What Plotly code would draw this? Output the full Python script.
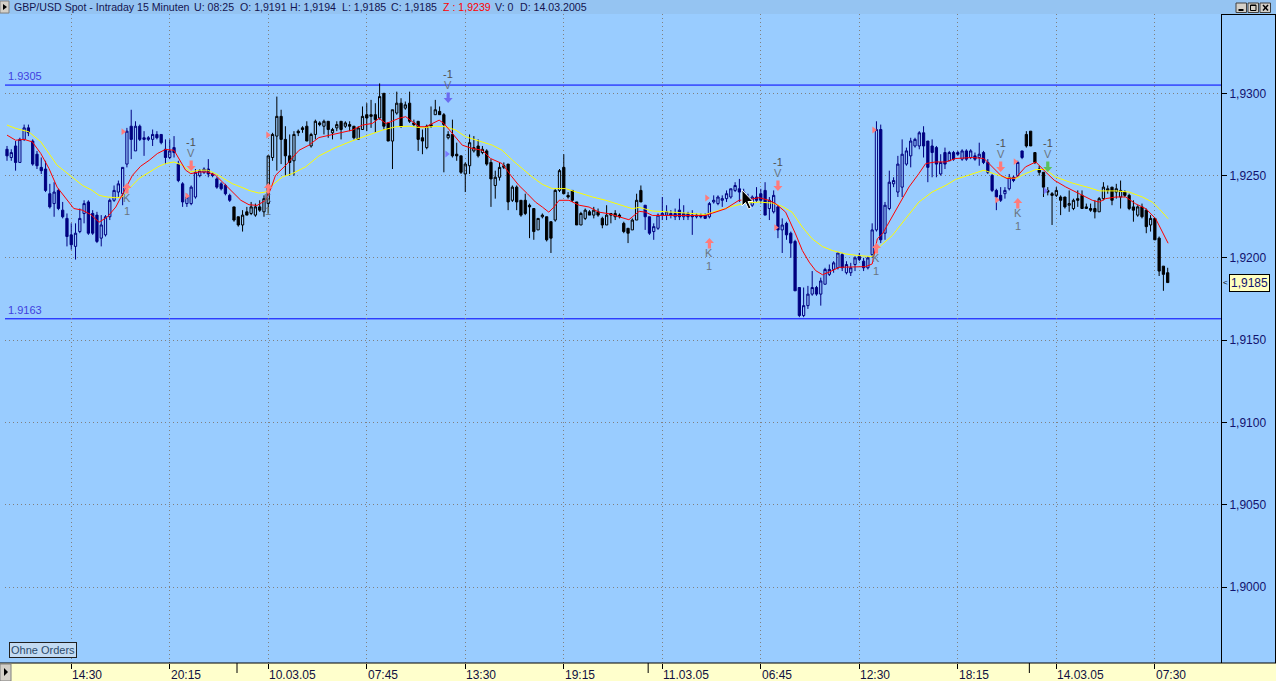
import plotly.graph_objects as go

# ---------------- data (GBP/USD 15-minute bars) ----------------
bar_index = list(range(272))

opens = [
 1.9266,1.9261,1.9268,1.9258,1.9272,1.9279,1.9271,1.9263,1.9255,1.9254,
 1.9239,1.9233,1.9241,1.9229,1.9224,1.9214,1.9207,1.9216,1.9227,1.9234,
 1.9227,1.9226,1.9212,1.9214,1.9225,1.9235,1.9240,1.9239,1.9257,1.9280,
 1.9265,1.9280,1.9273,1.9272,1.9272,1.9275,1.9275,1.9266,1.9261,1.9267,
 1.9257,1.9245,1.9233,1.9233,1.9237,1.9250,1.9252,1.9254,1.9251,1.9248,
 1.9245,1.9244,1.9238,1.9231,1.9225,1.9220,1.9228,1.9227,1.9226,1.9231,
 1.9228,1.9233,1.9261,1.9274,1.9286,1.9272,1.9262,1.9259,1.9277,1.9279,
 1.9280,1.9268,1.9275,1.9282,1.9280,1.9283,1.9276,1.9279,1.9283,1.9280,
 1.9281,1.9280,1.9272,1.9278,1.9287,1.9287,1.9287,1.9285,1.9300,1.9282,
 1.9271,1.9288,1.9294,1.9291,1.9294,1.9282,1.9283,1.9273,1.9267,1.9281,
 1.9287,1.9289,1.9287,1.9273,1.9275,1.9263,1.9262,1.9251,1.9256,1.9265,
 1.9268,1.9264,1.9265,1.9258,1.9244,1.9249,1.9255,1.9257,1.9235,1.9243,
 1.9235,1.9235,1.9232,1.9230,1.9217,1.9225,1.9225,1.9222,1.9223,1.9241,
 1.9255,1.9238,1.9241,1.9234,1.9220,1.9224,1.9228,1.9226,1.9228,1.9224,
 1.9220,1.9227,1.9225,1.9226,1.9221,1.9218,1.9217,1.9223,1.9241,1.9232,
 1.9225,1.9216,1.9218,1.9226,1.9226,1.9227,1.9225,1.9229,1.9225,1.9227,
 1.9226,1.9225,1.9226,1.9226,1.9225,1.9234,1.9233,1.9235,1.9236,1.9237,
 1.9241,1.9242,1.9240,1.9237,1.9232,1.9237,1.9239,1.9241,1.9230,1.9228,
 1.9231,1.9217,1.9221,1.9215,1.9210,1.9182,1.9165,1.9171,1.9178,1.9182,
 1.9178,1.9184,1.9190,1.9193,1.9194,1.9202,1.9191,1.9191,1.9196,1.9201,
 1.9198,1.9194,1.9202,1.9217,1.9278,1.9215,1.9230,1.9245,1.9240,1.9243,
 1.9257,1.9262,1.9268,1.9268,1.9276,1.9271,1.9268,1.9267,1.9251,1.9264,
 1.9259,1.9264,1.9264,1.9260,1.9265,1.9261,1.9262,1.9261,1.9264,1.9258,
 1.9250,1.9241,1.9238,1.9239,1.9242,1.9249,1.9250,1.9265,1.9275,1.9277,
 1.9264,1.9254,1.9252,1.9241,1.9239,1.9238,1.9237,1.9237,1.9232,1.9230,
 1.9236,1.9238,1.9230,1.9230,1.9230,1.9228,1.9236,1.9241,1.9243,1.9240,
 1.9237,1.9240,1.9238,1.9231,1.9226,1.9231,1.9229,1.9220,1.9224,1.9212,
 1.9195,1.9191]

highs = [
 1.9268,1.9266,1.9271,1.9273,1.9281,1.9281,1.9272,1.9265,1.9261,1.9259,
 1.9245,1.9246,1.9242,1.9234,1.9227,1.9221,1.9221,1.9230,1.9235,1.9235,
 1.9229,1.9228,1.9226,1.9226,1.9236,1.9244,1.9247,1.9255,1.9279,1.9290,
 1.9283,1.9281,1.9277,1.9274,1.9278,1.9277,1.9275,1.9272,1.9272,1.9274,
 1.9259,1.9246,1.9239,1.9244,1.9254,1.9254,1.9255,1.9260,1.9252,1.9249,
 1.9246,1.9245,1.9239,1.9231,1.9225,1.9229,1.9231,1.9234,1.9233,1.9235,
 1.9238,1.9262,1.9276,1.9298,1.9290,1.9280,1.9275,1.9277,1.9278,1.9280,
 1.9283,1.9276,1.9284,1.9283,1.9284,1.9283,1.9279,1.9283,1.9283,1.9283,
 1.9283,1.9280,1.9280,1.9292,1.9294,1.9296,1.9294,1.9306,1.9300,1.9282,
 1.9290,1.9301,1.9297,1.9295,1.9301,1.9284,1.9283,1.9278,1.9281,1.9292,
 1.9296,1.9292,1.9288,1.9277,1.9284,1.9270,1.9262,1.9258,1.9275,1.9274,
 1.9272,1.9268,1.9266,1.9260,1.9253,1.9258,1.9258,1.9257,1.9244,1.9244,
 1.9235,1.9239,1.9233,1.9230,1.9224,1.9227,1.9225,1.9222,1.9242,1.9254,
 1.9263,1.9240,1.9241,1.9234,1.9228,1.9230,1.9229,1.9231,1.9230,1.9225,
 1.9232,1.9227,1.9229,1.9227,1.9222,1.9218,1.9224,1.9239,1.9244,1.9232,
 1.9225,1.9221,1.9227,1.9237,1.9232,1.9229,1.9230,1.9236,1.9232,1.9228,
 1.9229,1.9227,1.9227,1.9227,1.9234,1.9238,1.9238,1.9238,1.9241,1.9242,
 1.9246,1.9248,1.9242,1.9239,1.9238,1.9243,1.9242,1.9246,1.9237,1.9241,
 1.9232,1.9224,1.9222,1.9216,1.9211,1.9182,1.9182,1.9183,1.9192,1.9183,
 1.9188,1.9194,1.9196,1.9198,1.9203,1.9203,1.9198,1.9197,1.9201,1.9203,
 1.9200,1.9201,1.9221,1.9283,1.9281,1.9234,1.9253,1.9249,1.9262,1.9272,
 1.9267,1.9273,1.9273,1.9277,1.9280,1.9271,1.9272,1.9268,1.9263,1.9267,
 1.9265,1.9265,1.9265,1.9266,1.9266,1.9266,1.9264,1.9270,1.9265,1.9260,
 1.9251,1.9242,1.9243,1.9243,1.9251,1.9250,1.9259,1.9265,1.9277,1.9277,
 1.9264,1.9256,1.9252,1.9243,1.9240,1.9243,1.9238,1.9237,1.9241,1.9236,
 1.9241,1.9241,1.9233,1.9233,1.9235,1.9237,1.9246,1.9244,1.9243,1.9245,
 1.9247,1.9241,1.9239,1.9235,1.9232,1.9233,1.9230,1.9226,1.9224,1.9213,
 1.9195,1.9194]

lows = [
 1.9259,1.9259,1.9253,1.9258,1.9271,1.9274,1.9256,1.9254,1.9251,1.9240,
 1.9230,1.9225,1.9229,1.9224,1.9207,1.9205,1.9199,1.9215,1.9221,1.9214,
 1.9214,1.9209,1.9207,1.9213,1.9223,1.9234,1.9237,1.9232,1.9255,1.9260,
 1.9265,1.9271,1.9262,1.9271,1.9268,1.9272,1.9269,1.9257,1.9260,1.9261,
 1.9246,1.9231,1.9231,1.9232,1.9236,1.9249,1.9251,1.9249,1.9249,1.9242,
 1.9241,1.9238,1.9234,1.9222,1.9219,1.9216,1.9226,1.9226,1.9225,1.9228,
 1.9225,1.9227,1.9259,1.9253,1.9257,1.9250,1.9250,1.9250,1.9274,1.9276,
 1.9271,1.9267,1.9272,1.9280,1.9275,1.9273,1.9272,1.9277,1.9272,1.9279,
 1.9277,1.9272,1.9272,1.9278,1.9277,1.9279,1.9276,1.9284,1.9278,1.9271,
 1.9254,1.9287,1.9279,1.9290,1.9282,1.9280,1.9265,1.9263,1.9266,1.9279,
 1.9287,1.9287,1.9252,1.9272,1.9261,1.9259,1.9251,1.9240,1.9251,1.9264,
 1.9261,1.9263,1.9256,1.9231,1.9236,1.9247,1.9254,1.9229,1.9234,1.9229,
 1.9225,1.9226,1.9212,1.9211,1.9217,1.9224,1.9210,1.9203,1.9222,1.9240,
 1.9239,1.9236,1.9234,1.9220,1.9220,1.9223,1.9226,1.9224,1.9225,1.9218,
 1.9220,1.9221,1.9223,1.9224,1.9215,1.9209,1.9217,1.9223,1.9234,1.9217,
 1.9214,1.9211,1.9217,1.9223,1.9223,1.9224,1.9223,1.9223,1.9223,1.9223,
 1.9214,1.9224,1.9224,1.9224,1.9224,1.9233,1.9232,1.9231,1.9234,1.9236,
 1.9240,1.9234,1.9234,1.9232,1.9231,1.9234,1.9233,1.9226,1.9223,1.9227,
 1.9212,1.9203,1.9211,1.9200,1.9180,1.9164,1.9164,1.9169,1.9177,1.9177,
 1.9171,1.9184,1.9189,1.9191,1.9193,1.9192,1.9190,1.9189,1.9192,1.9198,
 1.9192,1.9193,1.9200,1.9216,1.9209,1.9211,1.9229,1.9243,1.9237,1.9237,
 1.9256,1.9255,1.9267,1.9266,1.9261,1.9246,1.9249,1.9249,1.9250,1.9254,
 1.9259,1.9259,1.9262,1.9259,1.9259,1.9260,1.9259,1.9256,1.9257,1.9251,
 1.9240,1.9229,1.9234,1.9236,1.9241,1.9246,1.9249,1.9260,1.9267,1.9268,
 1.9257,1.9250,1.9237,1.9238,1.9220,1.9237,1.9226,1.9230,1.9228,1.9229,
 1.9231,1.9230,1.9230,1.9228,1.9224,1.9228,1.9235,1.9239,1.9232,1.9236,
 1.9230,1.9237,1.9229,1.9222,1.9225,1.9224,1.9215,1.9216,1.9211,1.9189,
 1.9180,1.9185]

closes = [
 1.9262,1.9264,1.9258,1.9272,1.9279,1.9276,1.9257,1.9256,1.9253,1.9241,
 1.9231,1.9240,1.9230,1.9225,1.9213,1.9208,1.9215,1.9224,1.9233,1.9215,
 1.9215,1.9210,1.9220,1.9225,1.9235,1.9241,1.9245,1.9255,1.9277,1.9272,
 1.9280,1.9272,1.9272,1.9273,1.9275,1.9273,1.9270,1.9261,1.9265,1.9264,
 1.9247,1.9234,1.9237,1.9243,1.9252,1.9253,1.9254,1.9251,1.9250,1.9243,
 1.9242,1.9239,1.9235,1.9223,1.9220,1.9226,1.9226,1.9231,1.9231,1.9229,
 1.9236,1.9262,1.9275,1.9286,1.9272,1.9262,1.9258,1.9275,1.9276,1.9278,
 1.9271,1.9275,1.9283,1.9281,1.9283,1.9278,1.9278,1.9281,1.9278,1.9282,
 1.9280,1.9273,1.9279,1.9286,1.9285,1.9286,1.9284,1.9298,1.9280,1.9271,
 1.9290,1.9294,1.9280,1.9293,1.9283,1.9281,1.9272,1.9271,1.9280,1.9280,
 1.9290,1.9287,1.9281,1.9275,1.9262,1.9262,1.9252,1.9257,1.9270,1.9267,
 1.9262,1.9266,1.9257,1.9248,1.9249,1.9255,1.9256,1.9234,1.9243,1.9234,
 1.9226,1.9227,1.9231,1.9216,1.9224,1.9226,1.9211,1.9212,1.9241,1.9253,
 1.9239,1.9237,1.9235,1.9220,1.9227,1.9229,1.9226,1.9229,1.9226,1.9220,
 1.9226,1.9226,1.9227,1.9225,1.9216,1.9215,1.9223,1.9235,1.9234,1.9225,
 1.9215,1.9219,1.9226,1.9227,1.9228,1.9226,1.9227,1.9225,1.9227,1.9225,
 1.9225,1.9226,1.9225,1.9224,1.9233,1.9235,1.9237,1.9236,1.9239,1.9242,
 1.9244,1.9240,1.9236,1.9234,1.9237,1.9235,1.9235,1.9226,1.9235,1.9238,
 1.9217,1.9220,1.9214,1.9209,1.9180,1.9165,1.9171,1.9178,1.9182,1.9178,
 1.9186,1.9193,1.9193,1.9197,1.9203,1.9194,1.9196,1.9194,1.9200,1.9199,
 1.9194,1.9200,1.9217,1.9278,1.9211,1.9232,1.9246,1.9247,1.9257,1.9263,
 1.9265,1.9271,1.9272,1.9276,1.9268,1.9255,1.9264,1.9257,1.9258,1.9257,
 1.9264,1.9260,1.9263,1.9265,1.9260,1.9265,1.9260,1.9263,1.9258,1.9252,
 1.9241,1.9237,1.9235,1.9241,1.9249,1.9247,1.9258,1.9261,1.9268,1.9268,
 1.9258,1.9252,1.9243,1.9240,1.9238,1.9241,1.9235,1.9231,1.9233,1.9235,
 1.9235,1.9230,1.9231,1.9229,1.9228,1.9236,1.9243,1.9242,1.9235,1.9242,
 1.9241,1.9238,1.9230,1.9229,1.9231,1.9225,1.9219,1.9224,1.9211,1.9192,
 1.9190,1.9185]

day_first_bar = [53, 149, 238]          # first bars of 10.03, 11.03, 14.03

tick_bars = [15, 38, 61, 84, 107, 130, 153, 176, 199, 222, 245, 268]
tick_labels = ["14:30", "20:15", "10.03.05", "07:45", "13:30", "19:15",
               "11.03.05", "06:45", "12:30", "18:15", "14.03.05", "07:30"]

price_ticks = [1.9000, 1.9050, 1.9100, 1.9150, 1.9200, 1.9250, 1.9300]
price_tick_labels = ["1,9000", "1,9050", "1,9100", "1,9150", "1,9200", "1,9250", "1,9300"]

# fast (red) moving average
ma_fast_x = [0, 2, 4, 5.9, 7.9, 9.8, 11.7, 13.7, 15.6, 17.6, 19.5, 21.5, 23.4, 25.4, 27.3, 29.3,
             31.2, 33.2, 35.1, 37, 39, 40.2, 41.7, 42.9, 44.8, 46.8, 48.7, 50.7, 52.6, 54.6, 56.5,
             58.4, 60.4, 61.6, 62.7, 65.1, 68.2, 70.5, 72.8,
             76.7, 80.6, 83, 85.3, 86.9, 88.4, 89.6, 91.5, 93.1, 94.6, 96.2, 97.8, 99.3, 100.9, 102,
             104, 106.3, 108.6, 111, 112.9, 114.5, 115.6, 117.6, 119.5, 121.5, 123.4, 125, 126.5,
             127.7, 128.9, 131.2, 133.6, 135.9, 138.2, 140.6, 142.9, 145.2, 147.6,
             149.1, 150.7, 153.8, 156.9, 160, 163.1, 164.7, 167.8, 170.9, 173.2, 175.6, 177.9, 179.5,
             181.8, 184.1, 185.7, 187.3, 188.8, 190.4, 191.9, 194.3, 197.4, 200.5, 202, 203.2, 204.4,
             205.9, 208.3, 210.6, 212.9, 214.5, 216.8, 219.2, 221.5,
             225.4, 228.1, 230, 232, 233.5, 235.5, 237.8, 240.2, 242.5, 244.5, 247.2, 250.3, 253.4,
             255, 256.5, 258.9, 261.2, 263.5, 265.9, 268.2, 269.7, 271.1]
ma_fast_y = [1.92746, 1.92715, 1.92720, 1.92705, 1.92634, 1.92543, 1.92430, 1.92360, 1.92300, 1.92290,
             1.92264, 1.92217, 1.92248, 1.92309, 1.92400, 1.92502, 1.92557, 1.92593, 1.92634, 1.92659,
             1.92654, 1.92604, 1.92533, 1.92512, 1.92522, 1.92522, 1.92502, 1.92451, 1.92400, 1.92350,
             1.92323, 1.92319, 1.92350, 1.92420, 1.92502, 1.92563, 1.92654, 1.92685, 1.92731,
             1.92752, 1.92776, 1.92807, 1.92817, 1.92848, 1.92817, 1.92827, 1.92848, 1.92858, 1.92827,
             1.92797, 1.92797, 1.92817, 1.92837, 1.92817, 1.92756, 1.92685, 1.92665, 1.92654, 1.92604,
             1.92583, 1.92573, 1.92502, 1.92441, 1.92390, 1.92339, 1.92309, 1.92278, 1.92309, 1.92350,
             1.92350, 1.92320, 1.92309, 1.92278, 1.92268, 1.92248, 1.92232, 1.92283,
             1.92278, 1.92258, 1.92258, 1.92258, 1.92258, 1.92258, 1.92272, 1.92299, 1.92350, 1.92354,
             1.92366, 1.92350, 1.92329, 1.92278, 1.92146, 1.92045, 1.91974, 1.91923, 1.91898, 1.91913,
             1.91943, 1.91943, 1.91947, 1.91963, 1.92116, 1.92146, 1.92217, 1.92329, 1.92431, 1.92512,
             1.92573, 1.92583, 1.92583, 1.92604,
             1.92610, 1.92604, 1.92553, 1.92502, 1.92482, 1.92486, 1.92553, 1.92583, 1.92522, 1.92472,
             1.92431, 1.92390, 1.92350, 1.92339, 1.92360, 1.92370, 1.92370, 1.92329, 1.92299, 1.92238,
             1.92157, 1.92089]

# slow (yellow) moving average
ma_slow_x = [0, 2, 5.1, 7.9, 9.8, 11.7, 13.7, 15.6, 17.6, 19.9, 21.5, 23.4, 25.4, 26.9, 28.5, 30.8,
             33.2, 35.5, 37, 39, 40.9, 42.9, 44.8, 46.8, 48.7, 50.7, 52.6, 54.6, 56.5, 58.8, 60.4,
             61.9, 64.3, 66.6, 69.7, 72.8,
             76.7, 80.6, 84.5, 87.6, 90.8, 93.9, 97, 100.1, 102.4, 104.8, 107.1, 110.2, 113.3, 115.6,
             118, 120.3, 122.6, 125, 127.3, 130.4, 133.6, 136.7, 139.8, 142.9, 146, 147.6,
             150.7, 155.4, 160, 163.1, 166.2, 169.3, 172.5, 175.6, 178.7, 181, 183.3, 185.7, 188,
             190.4, 192.7, 195.8, 198.9, 202, 203.6, 206.7, 209.8, 212.9, 216, 219.2, 221.5,
             225.4, 228.1, 230.8, 233.2, 235.5, 237.8, 240.2, 242.5, 244.8, 248.7, 252.6, 255,
             258.9, 262, 265.1, 267.4, 269, 271.1]
ma_slow_y = [1.92807, 1.92787, 1.92766, 1.92705, 1.92634, 1.92563, 1.92522, 1.92482, 1.92441, 1.92410,
             1.92380, 1.92370, 1.92366, 1.92370, 1.92420, 1.92482, 1.92522, 1.92557, 1.92573, 1.92583,
             1.92563, 1.92522, 1.92533, 1.92533, 1.92512, 1.92482, 1.92451, 1.92431, 1.92410, 1.92394,
             1.92400, 1.92441, 1.92492, 1.92512, 1.92553, 1.92619,
             1.92670, 1.92711, 1.92746, 1.92776, 1.92797, 1.92800, 1.92790, 1.92800, 1.92797, 1.92776,
             1.92736, 1.92711, 1.92685, 1.92654, 1.92594, 1.92543, 1.92492, 1.92447, 1.92421, 1.92421,
             1.92394, 1.92370, 1.92350, 1.92325, 1.92299, 1.92307,
             1.92285, 1.92278, 1.92272, 1.92264, 1.92289, 1.92313, 1.92333, 1.92339, 1.92333, 1.92313,
             1.92278, 1.92187, 1.92116, 1.92069, 1.92045, 1.92024, 1.92014, 1.92008, 1.92065, 1.92136,
             1.92238, 1.92339, 1.92400, 1.92441, 1.92477,
             1.92512, 1.92533, 1.92508, 1.92488, 1.92482, 1.92512, 1.92537, 1.92537, 1.92492, 1.92455,
             1.92427, 1.92407, 1.92407, 1.92400, 1.92370, 1.92339, 1.92299, 1.92238]

level_values = [1.9305, 1.9163]
level_labels = ["1.9305", "1.9163"]

buy_bars = [28, 61, 164, 203, 236]
buy_prices = [1.92455, 1.92455, 1.92121, 1.92091, 1.92364]
sell_bars = [43, 103, 180, 232, 243]
sell_prices = [1.92528, 1.92941, 1.92407, 1.92522, 1.92522]
sell_colors = ["#FF7B7B", "#6B6BF0", "#FF7B7B", "#FF7B7B", "#5CC05C"]

entry_bars = [27.1, 42.0, 60.9, 102.7, 163.4, 179.5, 202.4, 231.1, 235.4, 242.4]
entry_prices = [1.92767, 1.92376, 1.92747, 1.92631, 1.92364, 1.92184, 1.92777, 1.92352, 1.92585, 1.92408]
entry_colors = ["#FF7B7B", "#FF7B7B", "#FF7B7B", "#7B7BFF", "#FF7B7B",
                "#FF7B7B", "#FF7B7B", "#FF7B7B", "#FF7B7B", "#7B7BFF"]

last_price = 1.9185
last_price_label = "1,9185"

header_parts = [("GBP/USD Spot - Intraday 15 Minuten", "#141450"), ("U: 08:25", "#141450"),
                ("O: 1,9191", "#141450"), ("H: 1,9194", "#141450"), ("L: 1,9185", "#141450"),
                ("C: 1,9185", "#141450"), ("Z : 1,9239", "#FF0000"), ("V: 0", "#141450"),
                ("D: 14.03.2005", "#141450")]
header_x_px = [13, 193, 239, 289, 341, 390, 442, 494, 519]

# ---------------- geometry ----------------
W, H = 1276, 681
ML, MR, MT, MB = 5, 55, 14, 18
PW, PH = W - ML - MR, H - MT - MB
BAR0_PX = 7.0
BARPX = 4.283
X_RANGE = [(ML - BAR0_PX) / BARPX, (ML + PW - BAR0_PX) / BARPX]
Y_RANGE = [1.895389, 1.934818]
PPX = (Y_RANGE[1] - Y_RANGE[0]) / PH   # price per pixel
FONT = "Liberation Sans, Arial, sans-serif"
BG = "#99CCFF"


def pxx(px):
    return (px - ML) / PW


def pxy(py):
    return (MT + PH - py) / PH


# ---------------- traces ----------------
def day_of(i):
    return sum(1 for b in day_first_bar if i >= b)


fig = go.Figure()
for col, parity in (("#000080", 0), ("#000000", 1)):
    idx = [i for i in bar_index if day_of(i) % 2 == parity]
    fig.add_trace(go.Candlestick(
        x=idx,
        open=[opens[i] for i in idx], high=[highs[i] for i in idx],
        low=[lows[i] for i in idx], close=[closes[i] for i in idx],
        increasing=dict(line=dict(color=col, width=1), fillcolor="rgba(0,0,0,0)"),
        decreasing=dict(line=dict(color=col, width=1), fillcolor=col),
        whiskerwidth=0, showlegend=False, hoverinfo="skip"))

fig.add_trace(go.Scatter(x=ma_slow_x, y=ma_slow_y, mode="lines",
                         line=dict(color="#FFFF00", width=1), showlegend=False, hoverinfo="skip"))
fig.add_trace(go.Scatter(x=ma_fast_x, y=ma_fast_y, mode="lines",
                         line=dict(color="#FF0000", width=1), showlegend=False, hoverinfo="skip"))
fig.add_trace(go.Scatter(x=entry_bars, y=entry_prices, mode="markers",
                         marker=dict(symbol="triangle-right", size=6, color=entry_colors),
                         showlegend=False, hoverinfo="skip"))

shapes = []
annotations = []


def arrow_path(xc, ytip, up):
    s = 1 if up else -1
    pts = [(0, 0), (-4.5, 5), (-1.6, 5), (-1.6, 10.5), (1.6, 10.5), (1.6, 5), (4.5, 5)]
    co = [(xc + dx / BARPX, ytip - s * dy * PPX) for dx, dy in pts]
    return "M" + "L".join(f"{x:.4f},{y:.6f}" for x, y in co) + "Z"


def label(x, y, text, color, size=11):
    annotations.append(dict(x=x, y=y, xref="x", yref="y", text=text, showarrow=False,
                            font=dict(family=FONT, size=size, color=color),
                            xanchor="center", yanchor="middle"))


for b, p in zip(buy_bars, buy_prices):
    shapes.append(dict(type="path", xref="x", yref="y", path=arrow_path(b, p, True),
                       fillcolor="#FF7B7B", line=dict(width=0), layer="above"))
    label(b, p - 15 * PPX, "K", "#6A7480")
    label(b, p - 28 * PPX, "1", "#6A7480")
for b, p, c in zip(sell_bars, sell_prices, sell_colors):
    shapes.append(dict(type="path", xref="x", yref="y", path=arrow_path(b, p, False),
                       fillcolor=c, line=dict(width=0), layer="above"))
    label(b, p + 18 * PPX, "V", "#6A7480")
    label(b, p + 29 * PPX, "-1", "#505050")

# horizontal level lines and their labels
for v, t in zip(level_values, level_labels):
    shapes.append(dict(type="line", xref="paper", yref="y", x0=0, x1=1, y0=v, y1=v,
                       line=dict(color="#0000FF", width=1), layer="between"))
    annotations.append(dict(x=pxx(6), y=v, xref="paper", yref="y", yshift=9, text=t,
                            showarrow=False, xanchor="left", yanchor="middle",
                            font=dict(family=FONT, size=11, color="#4040E0")))

# header band, bottom time-axis band, frame lines
shapes += [
    dict(type="rect", xref="paper", yref="paper", x0=pxx(0), x1=pxx(W), y0=pxy(14), y1=pxy(0),
         fillcolor="#95C4F2", line=dict(width=0), layer="below"),
    dict(type="rect", xref="paper", yref="paper", x0=pxx(0), x1=pxx(W), y0=pxy(H), y1=pxy(663),
         fillcolor="#FFFFCC", line=dict(width=0), layer="below"),
    dict(type="line", xref="paper", yref="paper", x0=pxx(0), x1=pxx(W), y0=pxy(663), y1=pxy(663),
         line=dict(color="#000000", width=1)),
    dict(type="line", xref="paper", yref="paper", x0=pxx(1221), x1=pxx(W), y0=pxy(14.5), y1=pxy(14.5),
         line=dict(color="#000000", width=1)),
    dict(type="line", xref="paper", yref="paper", x0=pxx(1275.5), x1=pxx(1275.5), y0=pxy(14), y1=pxy(663),
         line=dict(color="#000000", width=1)),
]
# day separator ticks (longer)
for b in day_first_bar:
    shapes.append(dict(type="line", xref="x", yref="paper", x0=b + 0.7, x1=b + 0.7,
                       y0=pxy(663), y1=pxy(673), line=dict(color="#000000", width=1)))

# small grey buttons with triangles (left) and window controls (right)
def rect_px(x0, y0, x1, y1, fill, line="#808080"):
    shapes.append(dict(type="rect", xref="paper", yref="paper", x0=pxx(x0), x1=pxx(x1),
                       y0=pxy(y1), y1=pxy(y0), fillcolor=fill, line=dict(color=line, width=1)))


def path_px(pts, fill=None, color="#000000", width=1):
    p = "M" + "L".join(f"{pxx(x):.5f},{pxy(y):.5f}" for x, y in pts)
    d = dict(type="path", xref="paper", yref="paper", line=dict(color=color, width=width))
    if fill:
        p += "Z"
        d["fillcolor"] = fill
    d["path"] = p
    shapes.append(d)


rect_px(0, 1, 9, 13, "#D4D0C8")
path_px([(3, 4), (7, 7), (3, 10)], fill="#000000", width=0)
rect_px(0, 664, 11, 681, "#D4D0C8")
path_px([(4, 668), (8, 672), (4, 676)], fill="#000000", width=0)
for x0 in (1236, 1248, 1260):
    rect_px(x0, 3, x0 + 10.5, 12.5, "#D4D0C8", line="#404040")
path_px([(1238.5, 10), (1243.5, 10)], width=2)
path_px([(1250.5, 5), (1256, 5), (1256, 10.5), (1250.5, 10.5), (1250.5, 5)], width=1)
path_px([(1250.5, 5.5), (1256, 5.5)], width=1)
path_px([(1263, 5), (1268, 10.5)], width=1.5)
path_px([(1268, 5), (1263, 10.5)], width=1.5)

# mouse pointer visible in the screenshot
path_px([(742, 190), (742, 206), (745.5, 202.5), (748.5, 209), (751, 208), (748, 201.5), (753, 201.5)],
        fill="#000000", color="#FFFFFF", width=1)

# header texts
for (t, c), x in zip(header_parts, header_x_px):
    annotations.append(dict(x=pxx(x), y=pxy(7.5), xref="paper", yref="paper", text=t,
                            showarrow=False, xanchor="left", yanchor="middle", borderpad=0,
                            font=dict(family=FONT, size=10.6, color=c)))

# time-axis labels (left aligned at their ticks)
for b, t in zip(tick_bars, tick_labels):
    annotations.append(dict(x=b, y=pxy(674.5), xref="x", yref="paper", text=t, showarrow=False,
                            xanchor="left", yanchor="middle", xshift=0, borderpad=0,
                            font=dict(family=FONT, size=12, color="#101040")))

# last price box
annotations.append(dict(x=pxx(1229), y=last_price, xref="paper", yref="y", text=last_price_label,
                        showarrow=False, xanchor="left", yanchor="middle",
                        bgcolor="#FFFFC0", bordercolor="#000000", borderwidth=1, borderpad=1,
                        font=dict(family=FONT, size=12, color="#12126E")))
annotations.append(dict(x=pxx(1226), y=last_price, xref="paper", yref="y", text="&lt;",
                        showarrow=False, xanchor="center", yanchor="middle",
                        font=dict(family=FONT, size=8, color="#000000")))

# "Ohne Orders" box
annotations.append(dict(x=pxx(9), y=pxy(650), xref="paper", yref="paper", text="Ohne Orders",
                        showarrow=False, xanchor="left", yanchor="middle",
                        bgcolor="#C2DAF2", bordercolor="#202020", borderwidth=1, borderpad=1,
                        font=dict(family=FONT, size=11, color="#2B4A6B")))

fig.update_layout(
    width=W, height=H, autosize=False,
    margin=dict(l=ML, r=MR, t=MT, b=MB, pad=0),
    paper_bgcolor=BG, plot_bgcolor=BG,
    showlegend=False, dragmode=False, boxgap=0.25,
    shapes=shapes, annotations=annotations,
    xaxis=dict(range=X_RANGE, showgrid=True, gridcolor="#808080", griddash="1px,3px", gridwidth=1,
               tickmode="array", tickvals=tick_bars, ticks="outside", ticklen=5,
               tickcolor="#000000", showticklabels=False, showline=False, zeroline=False,
               rangeslider=dict(visible=False), fixedrange=True),
    yaxis=dict(range=Y_RANGE, side="right", showgrid=True, gridcolor="#808080",
               griddash="1px,3px", gridwidth=1, tickmode="array", tickvals=price_ticks,
               ticktext=price_tick_labels, ticks="outside", ticklen=5, tickcolor="#000000",
               showline=True, linecolor="#000000", linewidth=1, zeroline=False,
               tickfont=dict(family=FONT, size=12, color="#12126E"), fixedrange=True),
)

# remove the browser's default page margin so the 1276x681 figure fills the window exactly
fig.write_html("out.html", config={"displayModeBar": False},
               post_script="document.body.style.margin='0';document.body.style.overflow='hidden';")
